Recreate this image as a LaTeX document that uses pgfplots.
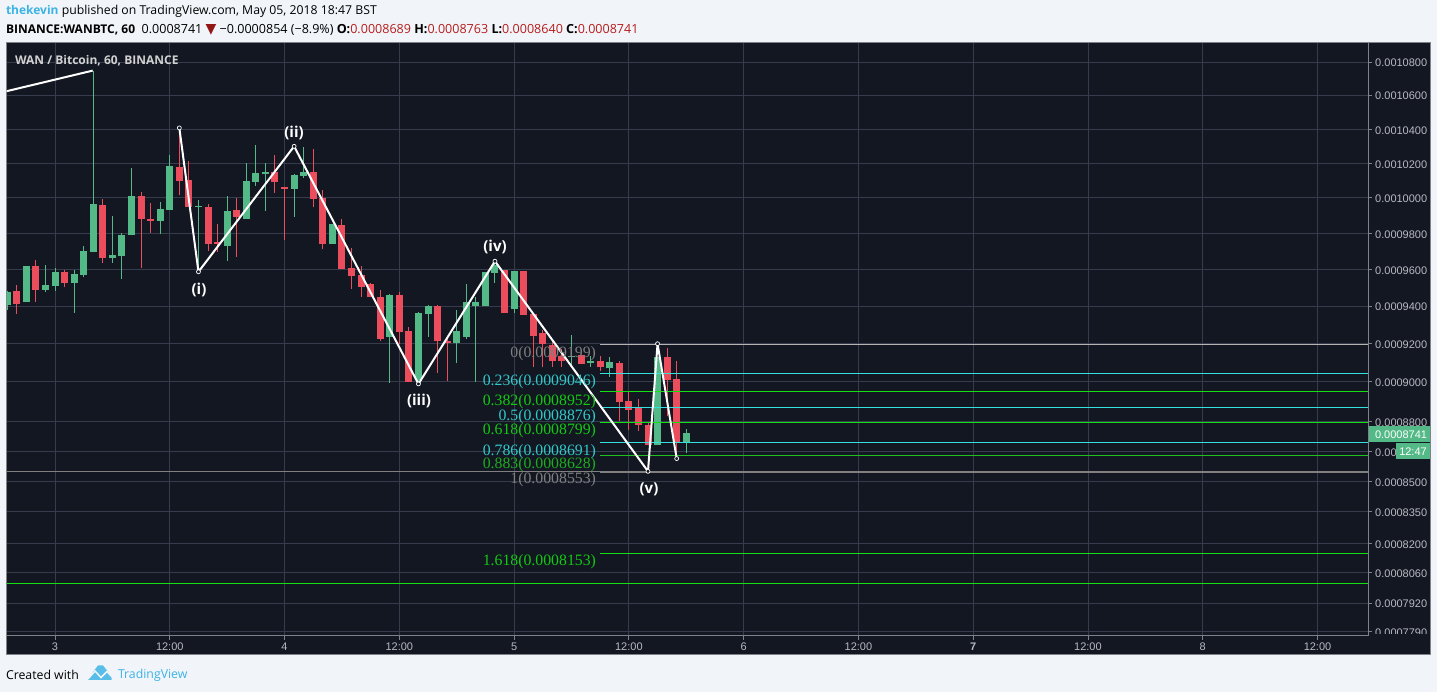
\documentclass[border=0pt]{standalone}
\usepackage{pgfplots}
\usepackage{pgfplotstable}
\pgfplotsset{compat=1.18}
\usepackage{fontspec}
\setmainfont{Liberation Sans}
\newfontfamily\hdr{Open Sans}
\newfontfamily\fib{Liberation Serif}
\newfontfamily\djv{DejaVu Sans}
\definecolor{pagebg}{HTML}{F1F5F9}
\definecolor{panel}{HTML}{131722}
\definecolor{gridc}{HTML}{363C4E}
\definecolor{upc}{HTML}{53B987}
\definecolor{dnc}{HTML}{EB4D5C}
\definecolor{framec}{HTML}{7F8288}
\definecolor{lab}{HTML}{B8BAC0}
\definecolor{tvblue}{HTML}{3BB3E4}
\definecolor{vals}{HTML}{B71C1C}
\definecolor{fcyan}{HTML}{35E0E0}
\definecolor{fgreen}{HTML}{14E014}
\definecolor{fgreen2}{HTML}{1FC01F}
\definecolor{fgray}{HTML}{808080}
\definecolor{fsil}{HTML}{B4B4B4}
% columns: hour from 3 May 00:00, low, body bottom, body top, high (units of 1e-7 BTC)
\pgfplotstableread{
h l b t u
-5 9377 9408 9474 9483
-3 9419 9419 9620 9620
-1 9478 9489 9516 9625
0 9483 9510 9587 9609
2 9364 9527 9576 9598
3 9559 9570 9703 9731
4 9697 9697 9968 10756
6 9636 9664 9680 9899
7 9548 9675 9792 9803
8 9787 9792 10013 10175
11 9798 9871 9939 9979
12 9933 9933 10187 10251
15 9598 9950 9956 9990
18 9647 9731 9928 10013
20 9882 9882 10099 10204
21 10070 10093 10146 10305
22 9928 10140 10151 10204
25 9893 10053 10134 10140
26 10117 10128 10151 10293
29 9742 9742 9854 9854
35 8997 9232 9462 9467
38 8987 9012 9364 9370
39 9237 9359 9397 9408
42 9100 9205 9269 9376
43 9226 9232 9419 9521
44 9002 9402 9419 9451
45 9397 9397 9587 9587
46 9527 9581 9625 9642
48 9364 9386 9592 9592
54 9090 9132 9137 9247
56 9080 9100 9111 9137
58 9028 9070 9106 9127
63 8679 8679 9127 9127
66 8640 8689 8741 8763
}\upcandles
\pgfplotstableread{
h l b t u
-4 9359 9413 9483 9516
-2 9419 9489 9620 9653
1 9500 9527 9587 9598
5 9636 9664 9962 9996
9 9609 9882 10013 10036
10 9803 9871 9882 9973
13 10019 10099 10181 10411
14 9950 9950 10105 10216
16 9703 9742 9950 9968
17 9697 9742 9748 9854
19 9669 9893 9933 10000
23 10030 10093 10151 10246
24 9764 10053 10065 10065
27 9950 9996 10151 10281
28 9709 9742 10002 10047
30 9603 9603 9849 9882
31 9494 9565 9609 9720
32 9446 9505 9570 9620
33 9446 9446 9521 9527
34 9211 9226 9451 9489
36 9200 9263 9462 9478
37 9002 9002 9269 9290
40 9047 9211 9402 9408
41 9007 9205 9216 9242
47 9364 9364 9598 9598
49 9354 9354 9592 9592
50 9080 9242 9359 9359
51 9075 9200 9258 9274
52 9080 9111 9195 9211
53 9080 9111 9137 9169
55 9095 9095 9142 9142
57 9059 9075 9111 9137
59 8803 8895 9100 9111
60 8758 8859 8900 8946
61 8749 8779 8870 8915
62 8679 8679 8779 8794
64 8824 9012 9127 9174
65 8605 8693 9017 9111
}\downcandles
\tikzset{pg/.style={inner sep=0pt,outer sep=0pt}}
\begin{document}
\begin{tikzpicture}[x=1pt,y=1pt]
\useasboundingbox (0,0) rectangle (1437,692);
\fill[pagebg] (0,0) rectangle (1437,692);
\fill[panel,draw=framec,line width=1pt] (6.5,37) rectangle (1430.5,649);
\begin{axis}[
  at={(6.5pt,56pt)},anchor=south west,
  scale only axis,width=1361.5pt,height=593pt,
  xmin=-5.071,xmax=137.28,
  ymode=log,ymin=7784,ymax=10929,
  axis background/.style={fill=panel},
  axis line style={draw=framec,line width=1pt},
  grid=major,
  grid style={draw=gridc,line width=0.9pt},
  tick style={draw=framec,line width=0.9pt},
  tick align=outside,major tick length=4pt,
  xtick pos=bottom,ytick pos=right,
  yticklabel pos=right,
  xtick={0,12,24,36,48,60,72,84,96,108,120,132},
  xticklabels={3,12:00,4,12:00,5,12:00,6,12:00,\textbf{7},12:00,8,12:00},
  ytick={7801,7931,8069,8204,8355,8500,8650,8800,9000,9200,9400,9600,9800,10000,10200,10400,10607,10809},
  yticklabels={0.0007790,0.0007920,0.0008060,0.0008200,0.0008350,0.0008500,0.0008650,0.0008800,0.0009000,0.0009200,0.0009400,0.0009600,0.0009800,0.0010000,0.0010200,0.0010400,0.0010600,0.0010800},
  minor tick num=0,
  log basis y=10,
  ticklabel style={font=\fontsize{11}{13}\selectfont,text=lab},
  yticklabel style={anchor=west,inner sep=0pt,xshift=3pt,yshift=-1pt},
  xticklabel style={inner sep=0pt,yshift=-3pt},
  clip=true,
]
% wicks
\addplot[draw=none,mark=none,forget plot,
  error bars/.cd,y dir=plus,y explicit,error mark=none,
  error bar style={draw=upc,line width=1pt}]
  table[x=h,y=l,y error plus expr=\thisrow{u}-\thisrow{l}] {\upcandles};
\addplot[draw=none,mark=none,forget plot,
  error bars/.cd,y dir=plus,y explicit,error mark=none,
  error bar style={draw=dnc,line width=1pt}]
  table[x=h,y=l,y error plus expr=\thisrow{u}-\thisrow{l}] {\downcandles};
% bodies
\addplot[draw=none,mark=none,forget plot,
  error bars/.cd,y dir=plus,y explicit,error mark=none,
  error bar style={draw=upc,line width=7pt}]
  table[x=h,y=b,y error plus expr=\thisrow{t}-\thisrow{b}] {\upcandles};
\addplot[draw=none,mark=none,forget plot,
  error bars/.cd,y dir=plus,y explicit,error mark=none,
  error bar style={draw=dnc,line width=7pt}]
  table[x=h,y=b,y error plus expr=\thisrow{t}-\thisrow{b}] {\downcandles};
% Fibonacci levels
\addplot[fsil,line width=1pt] coordinates {(57,9197.4)(137.28,9197.4)};
\addplot[fcyan,line width=1pt] coordinates {(57,9046)(137.28,9046)};
\addplot[fgreen,line width=1pt] coordinates {(57,8948.4)(137.28,8948.4)};
\addplot[fcyan,line width=1pt] coordinates {(57,8871.4)(137.28,8871.4)};
\addplot[fgreen,line width=1pt] coordinates {(57,8796)(137.28,8796)};
\addplot[fcyan,line width=1pt] coordinates {(57,8691)(137.28,8691)};
\addplot[fgreen2,line width=1pt] coordinates {(57,8626.5)(137.28,8626.5)};
\addplot[fgray,line width=2pt] coordinates {(57,8550)(137.28,8550)};
\addplot[fgray,line width=1pt] coordinates {(-5.071,8550)(57,8550)};
\addplot[fgreen,line width=1pt] coordinates {(57,8160)(137.28,8160)};
\addplot[fgreen,line width=1pt] coordinates {(-5.071,8017)(137.28,8017)};
% wave drawing
\addplot[white,line width=2pt] coordinates {(-5.07,10630)(3.94,10756)};
\addplot[white,line width=2pt,line join=round,mark=*,mark size=2pt,
  mark options={fill=panel,draw=white,line width=0.7pt}]
  coordinates {(13,10409)(15,9586)(25,10300)(38,8990)(46,9644)(62,8551)(63,9199)(65,8614)};
\end{axis}
% cover clipped scale bottom
\fill[panel] (1373,37.5) rectangle (1430,57.5);
% price tags
\fill[upc] (1368.5,250) rectangle (1430,266);
\node[pg,anchor=west,text=white,font=\fontsize{11}{13}\selectfont] at (1375,257.5) {0.0008741};
\fill[upc] (1396,233) rectangle (1430,249);
\node[pg,anchor=center,text=white,font=\fontsize{11}{13}\selectfont] at (1413,240.5) {12:47};
% watermark
\node[pg,anchor=west,text=white!82!black,font=\hdr\fontsize{12}{14}\selectfont\bfseries] at (15,631.5) {WAN / Bitcoin, 60, BINANCE};
% wave labels
\foreach \x/\y/\t in {199/402/(i),294/559/(ii),419/291/(iii),495/445/(iv),649/203/(v)}
  \node[pg,anchor=center,text=white,font=\hdr\fontsize{15}{17}\selectfont\bfseries] at (\x,\y) {\t};
% Fibonacci labels
\begin{scope}[every node/.style={pg,anchor=east,font=\fib\fontsize{15.8}{17}\selectfont}]
\node[text=fgray] at (596,338.5) {0(0.0009199)};
\node[text=fcyan!90!black] at (596,310) {0.236(0.0009046)};
\node[text=fgreen!90!black] at (596,290.5) {0.382(0.0008952)};
\node[text=fcyan!90!black] at (596,275.5) {0.5(0.0008876)};
\node[text=fgreen!90!black] at (596,261.5) {0.618(0.0008799)};
\node[text=fcyan!90!black] at (596,240.5) {0.786(0.0008691)};
\node[text=fgreen2!90!black] at (596,227.5) {0.883(0.0008628)};
\node[text=fgray] at (596,212.5) {1(0.0008553)};
\node[text=fgreen!90!black] at (596,130.5) {1.618(0.0008153)};
\end{scope}
% header
\node[pg,anchor=west,font=\hdr\fontsize{12.25}{14}\selectfont,text=black] at (6,680.5)
  {{\color{tvblue}\bfseries\fontsize{12}{14}\selectfont thekevin} published on TradingView.com, May 05, 2018 18:47 BST};
\node[pg,anchor=west,font=\hdr\fontsize{12.55}{14}\selectfont,text=black] at (6,662)
  {{\bfseries\fontsize{12}{14}\selectfont BINANCE:WANBTC, 60}\ \ 0.0008741 {\djv\color{vals!80!black}\fontsize{14}{14}\selectfont▼} −0.0000854 (−8.9\%) {\bfseries O:}{\color{vals}0.0008689} {\bfseries H:}{\color{vals}0.0008763} {\bfseries L:}{\color{vals}0.0008640} {\bfseries C:}{\color{vals}0.0008741}};
% footer
\node[pg,anchor=west,font=\hdr\fontsize{12.3}{14}\selectfont,text=black] at (6,17) {Created with};
\node[pg,anchor=west,font=\hdr\fontsize{12.3}{14}\selectfont,text=tvblue] at (118,17) {TradingView};
\fill[tvblue!85!white] (88,12) -- (93,20) -- (98,26.5) -- (103,26.5) -- (107,21.5) -- (111.5,16) -- (111.5,12) -- cycle;
\draw[pagebg,line width=1.5pt] (88,13) -- (95,21) -- (101,14.5) -- (107,20.5) -- (112,15);
\end{tikzpicture}
\end{document}
